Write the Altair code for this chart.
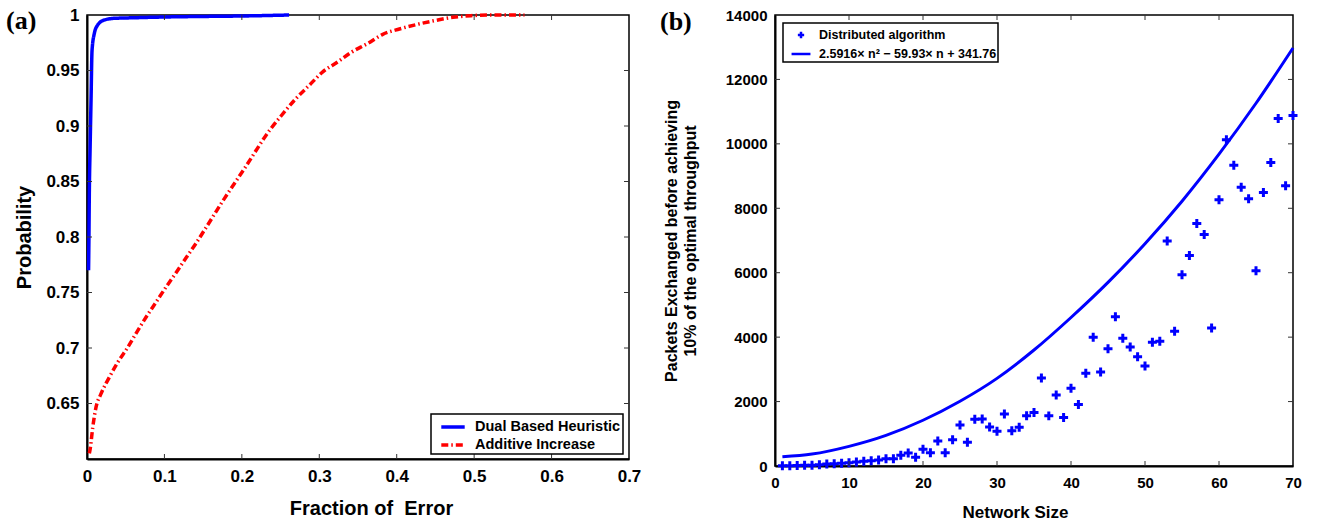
import altair as alt
import pandas as pd

# ---------------- Panel (a) data ----------------
dual_x = [0.002, 0.0025, 0.003, 0.004, 0.0052, 0.0065, 0.0095, 0.0138, 0.0224, 0.035,
          0.06, 0.1, 0.15, 0.2, 0.261]
dual_y = [0.770, 0.80, 0.84, 0.88, 0.923, 0.968, 0.9835, 0.991, 0.9955, 0.997,
          0.9975, 0.9982, 0.9987, 0.9991, 1.0]

add_x = [0.003, 0.0043, 0.0074, 0.0116, 0.018, 0.0288, 0.0397, 0.0526, 0.0655, 0.0762,
         0.0891, 0.102, 0.115, 0.128, 0.141, 0.1515, 0.1774, 0.2033, 0.2368, 0.2506,
         0.270, 0.2872, 0.3045, 0.3239, 0.3411, 0.3626, 0.382, 0.4035, 0.425, 0.4487,
         0.4725, 0.496, 0.5177, 0.565]
add_y = [0.605, 0.610, 0.6284, 0.6465, 0.6586, 0.6736, 0.6871, 0.7006, 0.7157, 0.7277,
         0.7412, 0.7548, 0.7678, 0.7813, 0.7945, 0.806, 0.8346, 0.8616, 0.897, 0.909,
         0.9248, 0.9368, 0.9488, 0.9578, 0.9663, 0.9744, 0.9826, 0.9874, 0.9913, 0.9949,
         0.9979, 0.9994, 1.0, 1.0]

series_a = ["Dual Based Heuristic", "Additive Increase"]
a_x_labels = [0, 0.1, 0.2, 0.3, 0.4, 0.5, 0.6, 0.7]
a_y_labels = [0.65, 0.7, 0.75, 0.8, 0.85, 0.9, 0.95, 1.0]
a_x_ticks = [0.1, 0.2, 0.3, 0.4, 0.5, 0.6]
a_y_ticks = [0.65, 0.7, 0.75, 0.8, 0.85, 0.9, 0.95]

# ---------------- Panel (b) data ----------------
net_size = list(range(1, 71))
packets = [10, 10, 15, 20, 25, 41, 61, 72, 82, 103,
           124, 144, 165, 186, 227, 227, 330, 403, 268, 517,
           413, 775, 413, 817, 1272, 734, 1448, 1459, 1210, 1076,
           1614, 1096, 1200, 1562, 1660, 2730, 1556, 2207, 1504, 2413,
           1907, 2879, 3995, 2920, 3643, 4636, 3964, 3695, 3395, 3106,
           3840, 3871, 6982, 4181, 5938, 6538, 7530, 7189, 4284, 8264,
           10124, 9339, 8656, 8295, 6062, 8491, 9421, 10786, 8698, 10879]

fit_n = [1, 5, 10, 15, 20, 25, 30, 35, 40, 45, 50, 55, 60, 65, 70]
fit_v = [284, 370, 610, 950, 1420, 2010, 2720, 3600, 4610, 5700, 6900, 8220, 9680, 11260, 12975]

series_b = ["Distributed algorithm", "2.5916\u00d7 n\u00b2 \u2212 59.93\u00d7 n + 341.76"]
b_x_labels = [0, 10, 20, 30, 40, 50, 60, 70]
b_y_labels = [0, 2000, 4000, 6000, 8000, 10000, 12000, 14000]
b_x_ticks = [10, 20, 30, 40, 50, 60]
b_y_ticks = [2000, 4000, 6000, 8000, 10000, 12000]

FONT = "Liberation Sans"
W1, H1 = 542, 444
W2, H2 = 518, 451
TICK = 5
PANEL_B_OFFSET = 689  # horizontal distance between the two plot origins

# ---------------- Panel (a) ----------------
df_a = pd.concat([
    pd.DataFrame({"x": dual_x, "y": dual_y, "series": series_a[0]}),
    pd.DataFrame({"x": add_x, "y": add_y, "series": series_a[1]}),
])

xa_scale = alt.Scale(domain=[0, 0.7], nice=False, zero=False)
ya_scale = alt.Scale(domain=[0.6, 1.0], nice=False, zero=False)
xa_axis = alt.Axis(values=a_x_labels, format="~g", title="Fraction of \u00a0Error",
                   labelPadding=9, titlePadding=14, labelFlush=False,
                   labelFontSize=17, titleFontSize=20, titleX=284)
ya_axis = alt.Axis(values=a_y_labels, format="~g", title="Probability",
                   labelPadding=8, titlePadding=11, labelFlush=False,
                   labelFontSize=17, titleFontSize=20)

legend_a = alt.Legend(title=None, orient="none", legendX=344, legendY=399,
                      symbolType="M-1.3,0H1.3", symbolSize=324,
                      symbolStrokeWidth=3.5, labelFontSize=14.5,
                      labelFont=FONT, labelFontWeight="bold",
                      labelColor="black", padding=2, rowPadding=0,
                      symbolOffset=9, labelOffset=11, strokeColor="black",
                      fillColor="white", labelLimit=300)

lines_a = alt.Chart(df_a).mark_line(strokeWidth=3.5, interpolate="monotone").encode(
    x=alt.X("x:Q", scale=xa_scale, axis=xa_axis),
    y=alt.Y("y:Q", scale=ya_scale, axis=ya_axis),
    color=alt.Color("series:N",
                    scale=alt.Scale(domain=series_a, range=["#0000ff", "#ff0000"]),
                    legend=legend_a),
    strokeDash=alt.StrokeDash("series:N",
                              scale=alt.Scale(domain=series_a, range=[[1, 0], [7, 3, 1.5, 3]]),
                              legend=legend_a),
    order=alt.Order("x:Q"),
)

xt_a = pd.DataFrame({"x": a_x_ticks})
yt_a = pd.DataFrame({"y": a_y_ticks})
tick_style = dict(color="#333333", strokeWidth=1)
ticks_a = [
    alt.Chart(xt_a).mark_rule(**tick_style).encode(
        x=alt.X("x:Q", scale=xa_scale, axis=xa_axis), y=alt.value(H1), y2=alt.value(H1 - TICK)),
    alt.Chart(xt_a).mark_rule(**tick_style).encode(
        x=alt.X("x:Q", scale=xa_scale, axis=xa_axis), y=alt.value(0), y2=alt.value(TICK)),
    alt.Chart(yt_a).mark_rule(**tick_style).encode(
        y=alt.Y("y:Q", scale=ya_scale, axis=ya_axis), x=alt.value(0), x2=alt.value(TICK)),
    alt.Chart(yt_a).mark_rule(**tick_style).encode(
        y=alt.Y("y:Q", scale=ya_scale, axis=ya_axis), x=alt.value(W1), x2=alt.value(W1 - TICK)),
]

label_a = alt.Chart(pd.DataFrame({"t": ["(a)"]})).mark_text(
    font="Liberation Serif", fontWeight="bold", fontSize=26, align="left",
    baseline="alphabetic", color="black").encode(
    text="t:N", x=alt.value(-81), y=alt.value(14))

panel_a = alt.layer(lines_a, *ticks_a, label_a).properties(width=W1, height=H1)

# ---------------- Panel (b) ----------------
df_pts = pd.DataFrame({"n": net_size, "v": packets, "series": series_b[0]})
df_fit = pd.DataFrame({"n": fit_n, "v": fit_v})

xb_scale = alt.Scale(domain=[0, 70], nice=False, zero=False)
yb_scale = alt.Scale(domain=[0, 14000], nice=False, zero=False)
xb_axis = alt.Axis(values=b_x_labels, format="d", title="Network Size",
                   labelPadding=9, titlePadding=14, labelFlush=False, titleX=240)
yb_axis = alt.Axis(values=b_y_labels, format="d",
                   title=["Packets Exchanged before achieving",
                          "10% of the optimal throughput"],
                   labelPadding=8, titlePadding=27, titleLineHeight=19,
                   titleFontSize=16, labelFlush=False)

plus_path = "M-0.35,0H0.35M0,-0.35V0.35"
line_path = "M-1.05,0H1.05"

fit_line = alt.Chart(df_fit).mark_line(color="#0000ff", strokeWidth=3, interpolate="monotone").encode(
    x=alt.X("n:Q", scale=xb_scale, axis=xb_axis),
    y=alt.Y("v:Q", scale=yb_scale, axis=yb_axis),
)

pts = alt.Chart(df_pts).mark_point(filled=False, color="#0000ff", strokeWidth=3, size=661, opacity=1).encode(
    x=alt.X("n:Q", scale=xb_scale, axis=xb_axis),
    y=alt.Y("v:Q", scale=yb_scale, axis=yb_axis),
    shape=alt.Shape("series:N",
                    scale=alt.Scale(domain=series_b, range=[plus_path, line_path]),
                    legend=alt.Legend(title=None, orient="none",
                                      legendX=PANEL_B_OFFSET + 7, legendY=8,
                                      symbolSize=324, symbolStrokeWidth=2.5,
                                      symbolStrokeColor="#0000ff", symbolFillColor="transparent",
                                      labelFontSize=12.5, labelFont=FONT,
                                      labelFontWeight="bold", labelColor="black",
                                      padding=1.5, rowPadding=0, symbolOffset=6,
                                      labelOffset=7.5,
                                      strokeColor="black", fillColor="white",
                                      labelLimit=300)),
)

xt_b = pd.DataFrame({"n": b_x_ticks})
yt_b = pd.DataFrame({"v": b_y_ticks})
ticks_b = [
    alt.Chart(xt_b).mark_rule(**tick_style).encode(
        x=alt.X("n:Q", scale=xb_scale, axis=xb_axis), y=alt.value(H2), y2=alt.value(H2 - TICK)),
    alt.Chart(xt_b).mark_rule(**tick_style).encode(
        x=alt.X("n:Q", scale=xb_scale, axis=xb_axis), y=alt.value(0), y2=alt.value(TICK)),
    alt.Chart(yt_b).mark_rule(**tick_style).encode(
        y=alt.Y("v:Q", scale=yb_scale, axis=yb_axis), x=alt.value(0), x2=alt.value(TICK)),
    alt.Chart(yt_b).mark_rule(**tick_style).encode(
        y=alt.Y("v:Q", scale=yb_scale, axis=yb_axis), x=alt.value(W2), x2=alt.value(W2 - TICK)),
]

label_b = alt.Chart(pd.DataFrame({"t": ["(b)"]})).mark_text(
    font="Liberation Serif", fontWeight="bold", fontSize=26, align="left",
    baseline="alphabetic", color="black").encode(
    text="t:N", x=alt.value(-115), y=alt.value(15))

panel_b = alt.layer(fit_line, pts, *ticks_b, label_b).properties(width=W2, height=H2)

chart = alt.hconcat(panel_a, panel_b, spacing=17).properties(
    padding={"left": 5, "top": 5, "right": 5, "bottom": 5}
).configure_view(
    stroke="black", strokeWidth=1.5
).configure_axis(
    labelFont=FONT, labelFontWeight="bold", labelFontSize=15, labelColor="black",
    titleFont=FONT, titleFontWeight="bold", titleFontSize=17, titleColor="black",
    ticks=False, tickSize=0, grid=False, domainColor="black", domainWidth=2,
).configure_legend(
    cornerRadius=0, strokeWidth=1.5
)

chart.save("out.html", embed_options={"renderer": "svg", "actions": False})
